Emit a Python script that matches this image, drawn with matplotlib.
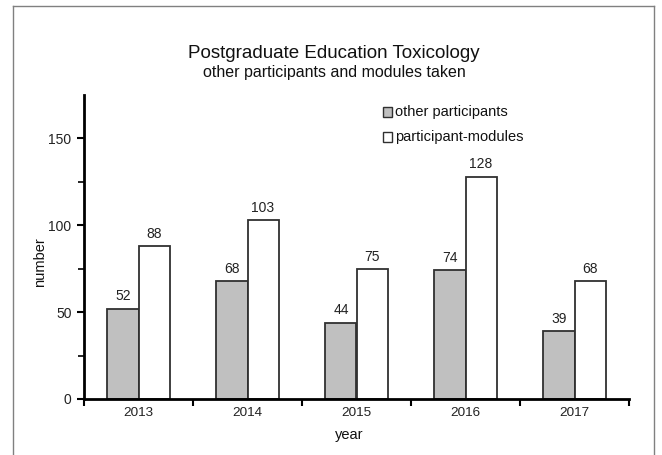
import matplotlib
matplotlib.use("Agg")
import matplotlib.pyplot as plt
from matplotlib.lines import Line2D
from matplotlib.patches import Rectangle
import numpy as np

plt.rcParams['font.family'] = ['Liberation Sans', 'DejaVu Sans']

years = ['2013', '2014', '2015', '2016', '2017']
other_participants = [52, 68, 44, 74, 39]
participant_modules = [88, 103, 75, 128, 68]
series_names = ['other participants', 'participant-modules']
series_colors = ['#c0c0c0', 'white']
title = 'Postgraduate Education Toxicology'
subtitle = 'other participants and modules taken'

W, H = 662, 455
fig = plt.figure(figsize=(W / 100, H / 100), dpi=100)
ax = fig.add_axes([84 / W, 1 - 399 / H, (629 - 84) / W, (399 - 95) / H])


def fx(px):
    return px / W


def fy(py):
    return 1 - py / H


x = np.arange(len(years))
bw = 0.285
edge = '#303030'
ax.bar(x - bw / 2, other_participants, bw, color=series_colors[0], edgecolor=edge, linewidth=1.3, zorder=2)
ax.bar(x + bw / 2, participant_modules, bw, color=series_colors[1], edgecolor=edge, linewidth=1.3, zorder=2)

lbl_fs = 10
for xi, v in zip(x, other_participants):
    ax.text(xi - bw / 2, v + 3, str(v), ha='center', va='bottom', fontsize=lbl_fs, color='#222222')
for xi, v in zip(x, participant_modules):
    ax.text(xi + bw / 2, v + 3, str(v), ha='center', va='bottom', fontsize=lbl_fs, color='#222222')

ax.set_xlim(-0.5, len(years) - 0.5)
ax.set_ylim(0, 175)
ax.set_yticks([0, 50, 100, 150])
ax.set_yticks([25, 75, 125], minor=True)
ax.set_xticks(np.arange(-0.5, len(years), 1.0))
ax.set_xticklabels([])
ax.set_xticks(x, minor=True)
ax.set_xticklabels(years, minor=True)
ax.tick_params(axis='x', which='minor', length=0, pad=6, labelsize=9.7, labelcolor='#222222')
ax.tick_params(axis='x', which='major', length=5, width=1.5, direction='out')
ax.tick_params(axis='y', which='major', length=5, width=1.5, direction='out', labelsize=10, labelcolor='#222222', pad=4)
ax.tick_params(axis='y', which='minor', length=4, width=1.2, direction='out')

for s in ['top', 'right']:
    ax.spines[s].set_visible(False)
for s in ['left', 'bottom']:
    ax.spines[s].set_linewidth(2)
    ax.spines[s].set_color('black')

# axis titles
fig.text(fx(40), fy(262), 'number', rotation=90, ha='center', va='center', fontsize=10.5, color='#111111')
fig.text(fx(349), fy(435), 'year', ha='center', va='center', fontsize=10.5, color='#111111')

# legend (no frame)
sq = 9
for i, (name, col) in enumerate(zip(series_names, series_colors)):
    cy = 112 + 25 * i
    fig.add_artist(Rectangle((fx(383), fy(cy + sq / 2)), sq / W, sq / H, transform=fig.transFigure,
                             facecolor=col, edgecolor=edge, linewidth=1.0))
    fig.text(fx(395), fy(cy), name, ha='left', va='center', fontsize=10.5, color='#111111')

fig.text(fx(334), fy(54), title, ha='center', va='center', fontsize=13.5, color='#111111')
fig.text(fx(334), fy(73), subtitle, ha='center', va='center', fontsize=11.5, color='#111111')

frame_c = '#808080'
fig.add_artist(Line2D([fx(13), fx(13)], [0, fy(6)], transform=fig.transFigure, color=frame_c, lw=1))
fig.add_artist(Line2D([fx(13), fx(654)], [fy(6), fy(6)], transform=fig.transFigure, color=frame_c, lw=1))
fig.add_artist(Line2D([fx(654), fx(654)], [0, fy(6)], transform=fig.transFigure, color=frame_c, lw=1))

fig.savefig('out.png', dpi=100)
